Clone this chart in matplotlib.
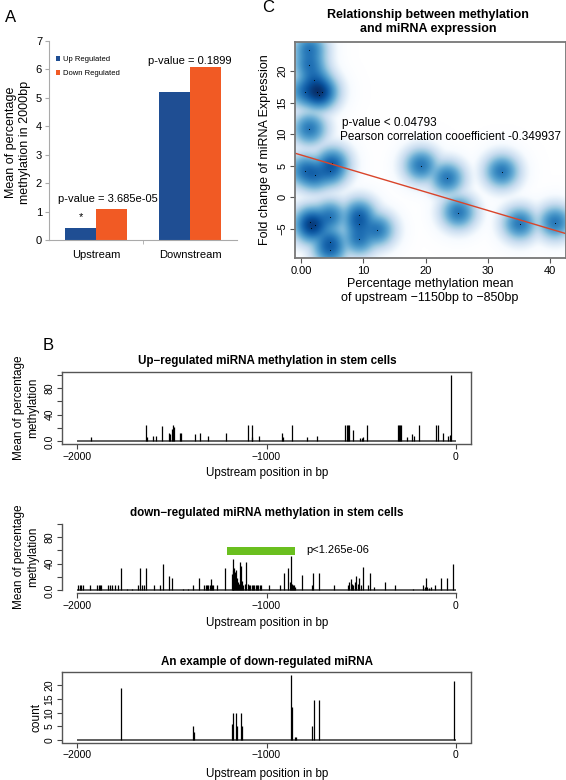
import numpy as np
import matplotlib.pyplot as plt
from matplotlib.colors import LinearSegmentedColormap

plt.rcParams['font.family'] = ['Liberation Sans', 'DejaVu Sans']

W, H = 566, 780

# ---- panel A: mean methylation
regions = ['Upstream', 'Downstream']
up_mean = [0.42, 5.22]
down_mean = [1.08, 6.10]
pval_a = ['p-value = 3.685e-05', 'p-value = 0.1899']

# ---- panel C: methylation vs fold change
meth_x = [1.3, 1.3, 2.1, 0.6, 2.5, 2.8, 3.3, 1.3, 0.6, 2.2, 4.6, 5.0,
          1.4, 2.2, 1.5, 4.6, 9.3, 9.3, 9.3, 12.2, 4.6, 4.6,
          19.3, 23.5, 32.3, 25.3, 35.2, 40.9]
fold_y = [23.4, 20.9, 18.6, 16.7, 16.7, 16.2, 16.7, 10.8, 4.2, 3.5, 4.2, 5.4,
          -3.9, -4.4, -4.9, -3.1, -2.8, -4.2, -6.6, -5.2, -7.0, -8.3,
          5.0, 3.0, 4.05, -2.4, -4.2, -4.0]
fit_intercept = 6.7
fit_slope = -0.292
pval_c = 'p-value < 0.04793'
pearson_c = 'Pearson correlation cooefficient -0.349937'

# ---- panel B: position-wise methylation
up_pos = [-1926, -1636, -1631, -1601, -1582, -1554, -1517, -1508, -1501, -1494,
          -1489, -1459, -1450, -1376, -1350, -1307, -1214, -1097, -1079, -1074,
          -1040, -919, -914, -865, -784, -735, -587, -576, -568, -562,
          -541, -506, -497, -489, -471, -304, -299, -293, -288, -257,
          -230, -221, -197, -107, -93, -70, -40, -33, -26]
up_val = [7, 24, 6, 8, 8, 23, 13, 11, 18, 24,
          21, 12, 12, 11, 12, 8, 12, 24, 24, 7,
          8, 12, 6, 24, 6, 8, 24, 24, 24, 24,
          17, 5, 5, 7, 24, 24, 24, 24, 24, 6,
          11, 8, 24, 24, 24, 12, 8, 10, 100]

down_pos = [-1996, -1987, -1978, -1969, -1930, -1895, -1886, -1878, -1872,
            -1838, -1828, -1815, -1798, -1786, -1771, -1736, -1710,
            -1678, -1670, -1657, -1648, -1634, -1592, -1564, -1548,
            -1515, -1501, -1441, -1415, -1388, -1357,
            -1329, -1322, -1315, -1308, -1300, -1295, -1288, -1280, -1262, -1218,
            -1182, -1179, -1175, -1170, -1166, -1161, -1156, -1151,
            -1146, -1142, -1135, -1129, -1122, -1115, -1107, -1100,
            -1093, -1086, -1079, -1072, -1065, -1058, -1050, -1043, -1036, -1028,
            -989, -928, -910, -884, -876, -870, -866, -860, -855, -849,
            -814, -761, -752, -722, -641,
            -568, -562, -555, -548, -541, -535, -527, -518, -510, -502, -492,
            -462, -453, -430, -374, -322, -225,
            -172, -165, -158, -150, -142, -130, -111, -81, -49, -14]
down_val = [8, 8, 8, 8, 8, 8, 8, 8, 8,
            8, 8, 8, 8, 8, 34, 2, 2,
            8, 34, 8, 8, 34, 8, 8, 40,
            22, 19, 2, 2, 8, 19,
            8, 8, 8, 8, 8, 17, 8, 8, 8, 34,
            24, 47, 30, 33, 28, 31, 18, 12,
            10, 42, 37, 14, 8, 10, 42, 10,
            8, 8, 8, 8, 8, 8, 8, 8, 8, 8,
            8, 8, 26, 34, 12, 52, 10, 8, 8, 5,
            23, 8, 26, 26, 8,
            8, 12, 17, 10, 8, 12, 22, 10, 19, 8, 35,
            8, 26, 5, 12, 8, 2,
            8, 5, 18, 5, 4, 5, 8, 18, 18, 39]
sig_start, sig_end = -1210, -850
sig_text = 'p<1.265e-06'

ex_pos = [-1771, -1388, -1382, -1182, -1179, -1160, -1157, -1135, -1130,
          -870, -866, -849, -845, -760, -749, -722, -11]
ex_val = [19, 5, 3, 6, 10, 10, 5, 10, 5,
          24, 12, 1, 1, 5, 14.5, 14.5, 21.5]


def box(l, t, r, b):
    return [l / W, 1 - b / H, (r - l) / W, (b - t) / H]


def ftext(x, y, s, **kw):
    kw.setdefault('ha', 'center')
    kw.setdefault('va', 'center')
    fig.text(x / W, 1 - y / H, s, **kw)


fig = plt.figure(figsize=(W / 100, H / 100), dpi=100)

# ================= A =================
blue = '#1f4e93'
orange = '#f15a24'
axA = fig.add_axes(box(49, 41, 237, 240))
xa = np.arange(len(regions))
bw = 0.33
axA.bar(xa - bw / 2, up_mean, bw, color=blue, label='Up Regulated')
axA.bar(xa + bw / 2, down_mean, bw, color=orange, label='Down Regulated')
axA.set_xlim(-0.5, 1.5)
axA.set_ylim(0, 7)
axA.set_yticks(range(8))
axA.set_xticks(xa)
axA.set_xticklabels(regions, fontsize=8)
axA.set_xticks([0.5], minor=True)
axA.tick_params(axis='x', which='major', length=0, pad=7)
axA.tick_params(axis='x', which='minor', length=3, color='#aaaaaa')
axA.tick_params(axis='y', length=3, color='#aaaaaa', labelsize=8, pad=2)
for s in ['top', 'right']:
    axA.spines[s].set_visible(False)
for s in ['left', 'bottom']:
    axA.spines[s].set_color('#aaaaaa')
axA.text(0.13, 1.44, pval_a[0], ha='center', va='center', fontsize=8)
axA.text(1.0, 6.3, pval_a[1], ha='center', va='center', fontsize=8)
axA.text(-bw / 2, 0.8, '*', ha='center', va='center', fontsize=8)
axA.legend(loc='upper left', bbox_to_anchor=(0.02, 0.94), frameon=False,
           fontsize=5.5, handlelength=0.6, handleheight=0.6,
           handletextpad=0.3, labelspacing=0.9, borderaxespad=0)
ftext(18, 142, 'Mean of percentage\nmethylation in 2000bp', rotation=90,
      fontsize=9)
ftext(11, 18, 'A', fontsize=12)

# ================= C =================
axC = fig.add_axes(box(295, 42, 566, 258))
xlim_c = (-1.0, 42.6)
ylim_c = (-9.6, 24.6)
gx = np.linspace(*xlim_c, 400)
gy = np.linspace(*ylim_c, 320)
GX, GY = np.meshgrid(gx, gy)
dens = np.zeros_like(GX)
for px, py in zip(meth_x, fold_y):
    dens += np.exp(-((GX - px) ** 2 / (2 * 1.2 ** 2) + (GY - py) ** 2 / (2 * 1.15 ** 2)))
dens = dens ** 0.25
blues9 = ['#F7FBFF', '#DEEBF7', '#C6DBEF', '#9ECAE1', '#6BAED6',
          '#4292C6', '#2171B5', '#08519C', '#08306B']
cmap = LinearSegmentedColormap.from_list('rblues', ['#FFFFFF'] + blues9)
axC.imshow(dens, extent=(*xlim_c, *ylim_c), origin='lower', aspect='auto',
           cmap=cmap, vmin=0, vmax=dens.max(), interpolation='bilinear')
axC.scatter(meth_x, fold_y, s=0.6, color='black', linewidths=0)
xs = np.array(xlim_c)
axC.plot(xs, fit_intercept + fit_slope * xs, color='#d9452b', lw=1)
axC.set_xlim(*xlim_c)
axC.set_ylim(*ylim_c)
axC.set_xticks([0, 10, 20, 30, 40])
axC.set_xticklabels(['0.00', '10', '20', '30', '40'])
axC.set_yticks([-5, 0, 5, 10, 15, 20])
axC.tick_params(labelsize=8, length=3.5, color='#555555', pad=2)
for lab in axC.get_yticklabels():
    lab.set_rotation(90)
    lab.set_va('center')
for s in axC.spines.values():
    s.set_color('#777777')
    s.set_linewidth(1.3)
axC.text(6.6, 11.75, pval_c, fontsize=8.5, va='center')
axC.text(6.2, 9.5, pearson_c, fontsize=8.5, va='center')
ftext(428, 22, 'Relationship between methylation\nand miRNA expression',
      fontsize=9, fontweight='bold')
ftext(430, 291, 'Percentage methylation mean\nof upstream \u22121150bp to \u2212850bp',
      fontsize=9, linespacing=1.3)
ftext(265, 150, 'Fold change of miRNA Expression', rotation=90, fontsize=9)
ftext(268, 8, 'C', fontsize=12)

# ================= B =================
ftext(48, 346, 'B', fontsize=12)
xlim_b = (-2080, 80)


def style_b(ax, boxed):
    ax.set_xlim(*xlim_b)
    ax.set_xticks([-2000, -1000, 0])
    ax.tick_params(labelsize=7.5, length=3.5, width=0.8, color='#444444', pad=2)
    for lab in ax.get_yticklabels():
        lab.set_rotation(90)
        lab.set_va('center')
    for s in ax.spines.values():
        s.set_color('#555555')
        s.set_linewidth(1.0)
    if not boxed:
        ax.spines['top'].set_visible(False)
        ax.spines['right'].set_visible(False)
        ax.spines['left'].set_bounds(0, 100)
        ax.spines['bottom'].set_bounds(-2000, 0)


axB1 = fig.add_axes(box(62, 372, 471, 444))
axB1.hlines(0, -2000, 0, color='#555555', lw=1.3)
axB1.vlines(up_pos, 0, up_val, color='black', lw=0.9)
axB1.set_ylim(-4, 104)
axB1.set_yticks([0, 20, 40, 60, 80, 100])
axB1.set_yticklabels(['0.0', '', '40', '', '80', ''])
style_b(axB1, True)
ftext(267, 361, 'Up\u2212regulated miRNA methylation in stem cells',
      fontsize=8.4, fontweight='bold')
ftext(267, 473, 'Upstream position in bp', fontsize=8.4)
ftext(26, 408, 'Mean of percentage\nmethylation', rotation=90, fontsize=8.5,
      linespacing=1.2)

axB2 = fig.add_axes(box(62, 521, 471, 593))
axB2.hlines(0, -2000, 0, color='#333333', lw=1.1)
axB2.vlines(down_pos, 0, down_val, color='black', lw=0.9)
axB2.barh(59, sig_end - sig_start, left=sig_start, height=12,
          color='#6abf1f')
axB2.text(-790, 61, sig_text, fontsize=8, va='center')
axB2.set_ylim(-4, 104)
axB2.set_yticks([0, 20, 40, 60, 80, 100])
axB2.set_yticklabels(['0.0', '', '40', '', '80', ''])
style_b(axB2, False)
ftext(267, 513, 'down\u2212regulated miRNA methylation in stem cells',
      fontsize=8.4, fontweight='bold')
ftext(267, 623, 'Upstream position in bp', fontsize=8.4)
ftext(26, 557, 'Mean of percentage\nmethylation', rotation=90, fontsize=8.5,
      linespacing=1.2)

axB3 = fig.add_axes(box(62, 672, 471, 742.5))
axB3.hlines(0, -2000, 0, color='#333333', lw=1.1)
axB3.vlines(ex_pos, 0, ex_val, color='black', lw=0.9)
axB3.set_ylim(-0.96, 24.96)
axB3.set_yticks([0, 5, 10, 15, 20])
style_b(axB3, True)
ftext(267, 662, 'An example of down-regulated miRNA', fontsize=8.4,
      fontweight='bold')
ftext(267, 774, 'Upstream position in bp', fontsize=8.4)
ftext(36, 717, 'count', rotation=90, fontsize=8.5)

fig.savefig('out.png', dpi=100)
